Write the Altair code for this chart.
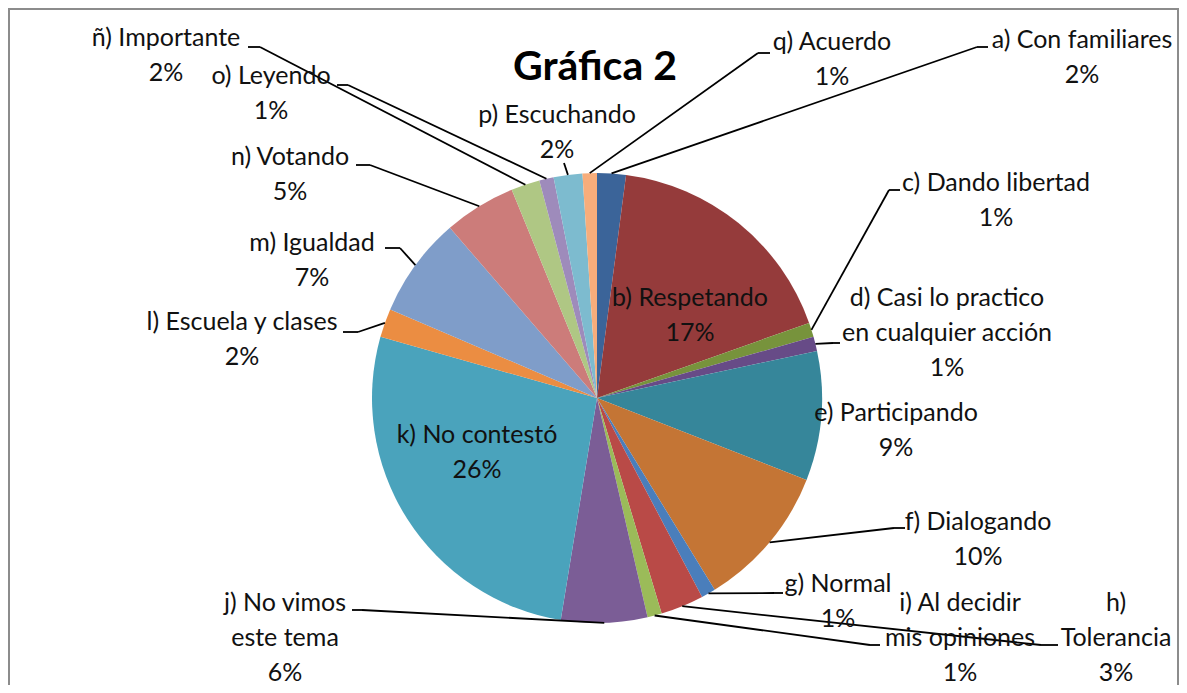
import math
import altair as alt
import pandas as pd

# ---------------- data ----------------
categories = [
    "a) Con familiares", "b) Respetando", "c) Dando libertad",
    "d) Casi lo practico\nen cualquier acción", "e) Participando",
    "f) Dialogando", "g) Normal", "h)\nTolerancia",
    "i) Al decidir\nmis opiniones", "j) No vimos\neste tema",
    "k) No contestó", "l) Escuela y clases", "m) Igualdad",
    "n) Votando", "ñ) Importante", "o) Leyendo", "p) Escuchando",
    "q) Acuerdo",
]
percentages = [2, 17, 1, 1, 9, 10, 1, 3, 1, 6, 26, 2, 7, 5, 2, 1, 2, 1]
title_text = "Gráfica 2"

# ---------------- styles / layout ----------------
colors = [
    "#3B6499", "#953B3B", "#77933C", "#674B87", "#36869A", "#C47535",
    "#4A7EBB", "#B94A47", "#9BBB59", "#7B5D96", "#4AA3BC", "#EB8D42",
    "#7F9DC9", "#CC7C7A", "#AFC784", "#9E8BBB", "#7DBBCF", "#F7AD7B",
]
OFF = 8  # page margin
CX, CY, R = 597 - OFF, 398 - OFF, 225
FS, LH = 25, 35

# label anchor (first line centre) in page pixels
label_pos = [
    (1082, 40), (690, 298), (996, 183), (947, 298), (896, 413), (978, 522),
    (838, 584), (1116, 603), (960, 603), (285, 603), (477, 435), (242, 322),
    (312, 243), (290, 157), (166, 38), (271, 76), (557, 115), (832, 42),
]
# leader line: (end point at label, elbow) in page pixels, None = no leader
leaders = [
    ((988, 47), (977, 47)), None, ((900, 190), (889, 190)),
    ((840, 343), (833, 343)), None, ((905, 528), (894, 528)),
    ((783, 593), (774, 593)), ((1058, 645), (1041, 645)),
    ((880, 645), (870, 645)), ((352, 610), (362, 610)), None,
    ((343, 332), (358, 332)), ((385, 248), (400, 248)),
    ((356, 165), (370, 165)), ((248, 47), (260, 47)),
    ((337, 85), (348, 85)), ((564, 163), (564, 163)),
    ((770, 53), (758, 53)),
]

# ---------------- tables ----------------
pie_df = pd.DataFrame({
    "cat": categories,
    "value": percentages,
    "idx": list(range(len(categories))),
})

total = float(sum(percentages))
cum = 0.0
lead_rows, text_rows = [], []
for i, (cat, v) in enumerate(zip(categories, percentages)):
    mid = 2 * math.pi * (cum + v / 2.0) / total
    cum += v
    sx = CX + R * math.sin(mid)
    sy = CY - R * math.cos(mid)
    if leaders[i] is not None:
        (ex, ey), (bx, by) = leaders[i]
        lead_rows.append({"x": sx, "y": sy, "x2": bx - OFF, "y2": by - OFF})
        lead_rows.append({"x": bx - OFF, "y": by - OFF, "x2": ex - OFF, "y2": ey - OFF})
    lines = cat.split("\n") + [f"{v}%"]
    lx, ly = label_pos[i]
    for j, t in enumerate(lines):
        text_rows.append({"x": lx - OFF, "y": ly - OFF + j * LH, "text": t})

lead_df = pd.DataFrame(lead_rows)
text_df = pd.DataFrame(text_rows)

# ---------------- chart ----------------
frame = alt.Chart(pd.DataFrame({"k": [0]})).mark_rect(
    filled=False, stroke="#8C8C8C", strokeWidth=2
).encode(
    x=alt.value(1), x2=alt.value(1170), y=alt.value(1), y2=alt.value(740)
)

pie = alt.Chart(pie_df).mark_arc(outerRadius=R).encode(
    theta=alt.Theta("value:Q", stack=True),
    color=alt.Color("cat:N", scale=alt.Scale(domain=categories, range=colors), legend=None),
    order=alt.Order("idx:Q", sort="ascending"),
    x=alt.value(CX),
    y=alt.value(CY),
)

rules = alt.Chart(lead_df).mark_rule(color="black", strokeWidth=1.8).encode(
    x=alt.X("x:Q", scale=None, axis=None),
    y=alt.Y("y:Q", scale=None, axis=None),
    x2="x2:Q",
    y2="y2:Q",
)

texts = alt.Chart(text_df).mark_text(
    font="Lato", fontSize=FS, color="#111111", align="center", baseline="middle"
).encode(
    x=alt.X("x:Q", scale=None, axis=None),
    y=alt.Y("y:Q", scale=None, axis=None),
    text="text:N",
)

title = alt.Chart(pd.DataFrame({"t": [title_text]})).mark_text(
    font="Lato", fontSize=41, fontWeight="bold", color="#000000",
    align="center", baseline="alphabetic"
).encode(
    x=alt.value(595 - OFF), y=alt.value(80 - OFF), text="t:N"
)

chart = alt.layer(frame, pie, rules, texts, title).properties(
    width=1171, height=677,
    autosize=alt.AutoSizeParams(type="none"),
    padding=0,
).configure_view(strokeWidth=0)

chart.save("out.html", embed_options={"renderer": "svg", "actions": False})
